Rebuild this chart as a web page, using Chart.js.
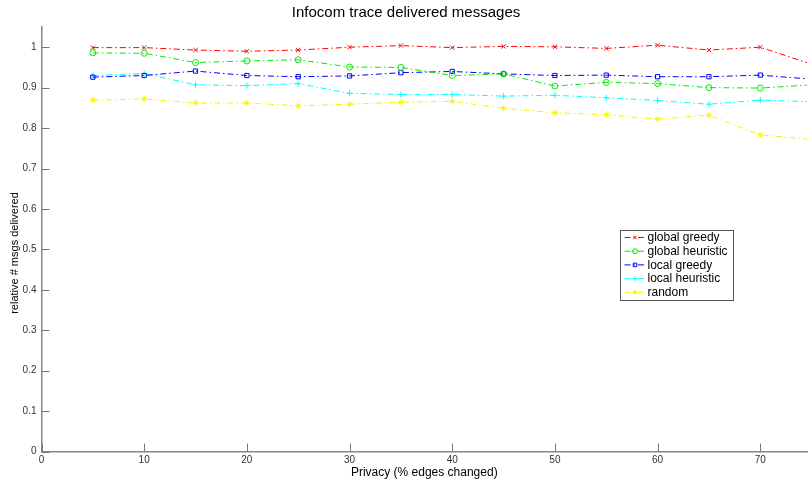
<!DOCTYPE html>
<html>
<head>
<meta charset="utf-8">
<script src="https://cdn.jsdelivr.net/npm/chart.js@4.4.1/dist/chart.umd.min.js"></script>
<style>
  html, body { margin: 0; padding: 0; background: #fff; }
  #wrap { width: 812px; height: 480px; }
</style>
</head>
<body>
<div id="wrap"><canvas id="infocomChart" width="812" height="480"></canvas></div>
<script>
// Privacy level (% edges changed)
const privacy = [5, 10, 15, 20, 25, 30, 35, 40, 45, 50, 55, 60, 65, 70, 75];

const globalGreedy    = [0.999, 0.999, 0.993, 0.990, 0.993, 1.000, 1.004, 0.999, 1.002, 1.001, 0.997, 1.005, 0.993, 1.000, 0.958];
const globalHeuristic = [0.986, 0.985, 0.962, 0.966, 0.969, 0.951, 0.950, 0.930, 0.934, 0.904, 0.913, 0.910, 0.900, 0.899, 0.907];
const localGreedy     = [0.926, 0.930, 0.941, 0.930, 0.927, 0.929, 0.937, 0.940, 0.934, 0.930, 0.931, 0.927, 0.927, 0.931, 0.921];
const localHeuristic  = [0.930, 0.935, 0.907, 0.905, 0.910, 0.886, 0.883, 0.883, 0.879, 0.881, 0.875, 0.868, 0.859, 0.869, 0.865];
const randomSel       = [0.869, 0.872, 0.862, 0.862, 0.855, 0.859, 0.864, 0.866, 0.849, 0.838, 0.833, 0.822, 0.832, 0.783, 0.772];

const yTicks = [0, 0.1, 0.2, 0.3, 0.4, 0.5, 0.6, 0.7, 0.8, 0.9, 1];
const xTicks = [0, 10, 20, 30, 40, 50, 60, 70];

const FONT = '"Liberation Sans", Arial, Helvetica, sans-serif';
const DASH = [6, 3, 1.5, 3];

function series(label, values, color, style) {
  return {
    label: label,
    data: privacy.map((p, i) => ({ x: p, y: values[i] })),
    borderColor: color,
    backgroundColor: 'transparent',
    borderWidth: 1,
    borderDash: DASH,
    pointStyle: style,
    pointRadius: 3,
    pointBorderColor: color,
    pointBorderWidth: 1,
    pointBackgroundColor: 'rgba(0,0,0,0)',
    tension: 0
  };
}

// MATLAB style inward ticks, y label and legend box
const matlabAxes = {
  id: 'matlabAxes',
  afterDraw(chart) {
    const ctx = chart.ctx;
    const a = chart.chartArea;
    const xs = chart.scales.x, ys = chart.scales.y;
    ctx.save();
    ctx.strokeStyle = '#777';
    ctx.lineWidth = 1;
    ctx.beginPath();
    xTicks.forEach(v => {
      const px = Math.round(xs.getPixelForValue(v)) + 0.5;
      ctx.moveTo(px, a.bottom);
      ctx.lineTo(px, a.bottom - 8);
    });
    yTicks.forEach(v => {
      const py = Math.round(ys.getPixelForValue(v)) + 0.5;
      ctx.moveTo(a.left, py);
      ctx.lineTo(a.left + 8, py);
    });
    ctx.stroke();

    // y axis label
    ctx.save();
    ctx.translate(15, 253);
    ctx.rotate(-Math.PI / 2);
    ctx.fillStyle = '#000';
    ctx.font = '11px ' + FONT;
    ctx.textAlign = 'center';
    ctx.textBaseline = 'middle';
    ctx.fillText('relative # msgs delivered', 0, 0);
    ctx.restore();

    // legend
    const bx = 620.5, by = 230.5, bw = 113, bh = 70;
    ctx.fillStyle = '#fff';
    ctx.fillRect(bx, by, bw, bh);
    ctx.strokeStyle = '#555';
    ctx.strokeRect(bx, by, bw, bh);
    ctx.font = '12px ' + FONT;
    ctx.textBaseline = 'middle';
    ctx.textAlign = 'left';
    chart.data.datasets.forEach((ds, i) => {
      const y = by + 7 + i * 13.7;
      ctx.strokeStyle = ds.borderColor;
      ctx.lineWidth = 1;
      ctx.setLineDash(DASH);
      ctx.beginPath();
      ctx.moveTo(bx + 4, y);
      ctx.lineTo(bx + 25, y);
      ctx.stroke();
      ctx.setLineDash([]);
      ctx.fillStyle = 'rgba(0,0,0,0)';
      Chart.helpers.drawPoint(ctx, { pointStyle: ds.pointStyle, radius: 2.5, borderWidth: 1, rotation: 0 }, bx + 14.5, y);
      ctx.fillStyle = '#000';
      ctx.fillText(ds.label, bx + 27, y + 0.5);
    });
    ctx.restore();
  }
};

new Chart(document.getElementById('infocomChart').getContext('2d'), {
  type: 'line',
  data: {
    datasets: [
      series('global greedy', globalGreedy, '#ff0000', 'crossRot'),
      series('global heuristic', globalHeuristic, '#00ee00', 'circle'),
      series('local greedy', localGreedy, '#0000ff', 'rect'),
      series('local heuristic', localHeuristic, '#00ffff', 'cross'),
      series('random', randomSel, '#f5f500', 'star')
    ]
  },
  options: {
    responsive: false,
    animation: false,
    layout: { padding: { left: 0, right: 0, top: 0, bottom: 0 } },
    plugins: {
      legend: { display: false },
      tooltip: { enabled: false },
      title: {
        display: true,
        text: 'Infocom trace delivered messages',
        color: '#000',
        font: { family: FONT, size: 15, weight: 'normal' },
        padding: { top: 4, bottom: 5 }
      }
    },
    scales: {
      x: {
        type: 'linear',
        min: 0,
        max: 74.55,
        afterFit: s => { s.height = 28.5; },
        afterBuildTicks: s => { s.ticks = xTicks.map(v => ({ value: v })); },
        grid: { display: false, drawTicks: false },
        border: { color: '#888', width: 1.5 },
        ticks: { color: '#333', font: { family: FONT, size: 10 }, padding: 3, maxRotation: 0 },
        title: {
          display: true,
          text: 'Privacy (% edges changed)',
          color: '#000',
          font: { family: FONT, size: 12 },
          padding: { top: -1, bottom: 0 }
        }
      },
      y: {
        min: 0,
        max: 1.05,
        afterFit: s => { s.width = 41.5; },
        afterBuildTicks: s => { s.ticks = yTicks.map(v => ({ value: v })); },
        grid: { display: false, drawTicks: false },
        border: { color: '#888', width: 1.5 },
        ticks: {
          color: '#333',
          font: { family: FONT, size: 10 },
          padding: 5,
          callback: v => String(Math.round(v * 10) / 10)
        }
      }
    }
  },
  plugins: [matlabAxes]
});
</script>
</body>
</html>
